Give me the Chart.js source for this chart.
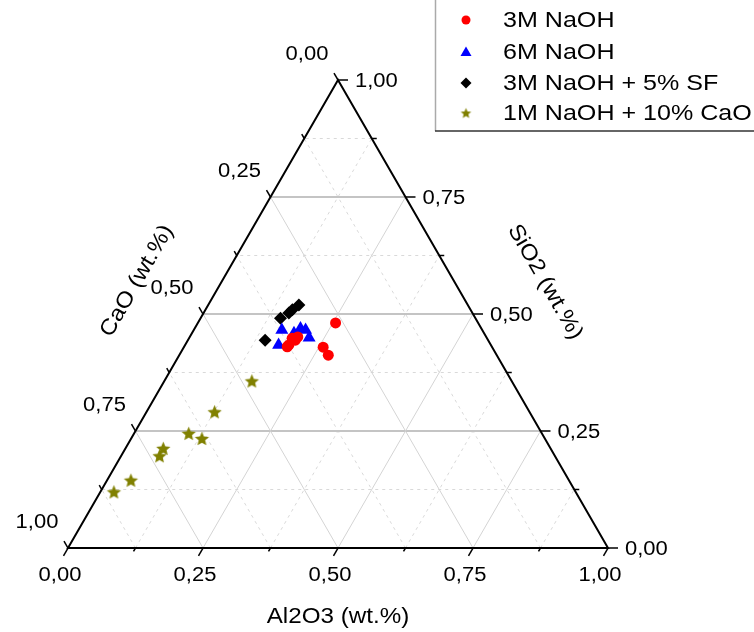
<!DOCTYPE html>
<html>
<head>
<meta charset="utf-8">
<script src="https://cdn.jsdelivr.net/npm/chart.js@4.4.1/dist/chart.umd.min.js"></script>
<style>
  html, body { margin: 0; padding: 0; background: #ffffff; }
  #c { display: block; }
</style>
</head>
<body>
<canvas id="c" width="754" height="632"></canvas>
<script>
// ---- Data (weight fractions: CaO, Al2O3, SiO2) ----
const seriesNames = ['3M NaOH', '6M NaOH', '3M NaOH + 5% SF', '1M NaOH + 10% CaO'];

const s1CaO  = [0.264, 0.361, 0.357, 0.374, 0.379, 0.313, 0.312, 0.349];
const s1Al2O3 = [0.255, 0.191, 0.199, 0.192, 0.191, 0.258, 0.276, 0.200];
const s1SiO2 = [0.481, 0.448, 0.444, 0.434, 0.430, 0.429, 0.412, 0.451];

const s2CaO  = [0.371, 0.335, 0.327, 0.329, 0.393, 0.352];
const s2Al2O3 = [0.163, 0.196, 0.207, 0.222, 0.173, 0.189];
const s2SiO2 = [0.466, 0.469, 0.466, 0.449, 0.434, 0.459];

const s3CaO  = [0.313, 0.330, 0.340, 0.361, 0.413];
const s3Al2O3 = [0.168, 0.161, 0.158, 0.148, 0.143];
const s3SiO2 = [0.519, 0.509, 0.502, 0.491, 0.444];

const s4CaO  = [0.481, 0.583, 0.654, 0.635, 0.717, 0.732, 0.811, 0.855];
const s4Al2O3 = [0.162, 0.126, 0.101, 0.131, 0.070, 0.071, 0.044, 0.025];
const s4SiO2 = [0.357, 0.291, 0.245, 0.234, 0.213, 0.197, 0.145, 0.120];

const majorTicks = [0, 0.25, 0.5, 0.75, 1];
const tickLabels = ['0,00', '0,25', '0,50', '0,75', '1,00'];
const minorTicks = [0.125, 0.375, 0.625, 0.875];
const axisTitles = ['Al2O3 (wt.%)', 'CaO (wt.%)', 'SiO2 (wt.%)'];

// ---- ternary -> cartesian (unit equilateral triangle) ----
const H3 = Math.sqrt(3) / 2;
function tern(ca, al, si) { return { x: al + si / 2, y: si * H3 }; }
function build(ca, al, si) { return ca.map((c, i) => tern(c, al[i], si[i])); }

// filled star marker
function makeStar(rOuter, color) {
  const size = Math.ceil(rOuter * 2 + 2);
  const cv = document.createElement('canvas');
  cv.width = size; cv.height = size;
  const g = cv.getContext('2d');
  const cx = size / 2, cy = size / 2 + rOuter * 0.1;
  const rInner = rOuter * 0.46;
  g.beginPath();
  for (let i = 0; i < 10; i++) {
    const r = i % 2 === 0 ? rOuter : rInner;
    const a = -Math.PI / 2 + i * Math.PI / 5;
    const px = cx + r * Math.cos(a), py = cy + r * Math.sin(a);
    if (i === 0) g.moveTo(px, py); else g.lineTo(px, py);
  }
  g.closePath();
  g.fillStyle = color;
  g.fill();
  return cv;
}
const OLIVE = '#808000';
const starPlot = makeStar(7.5, OLIVE);
const starLegend = makeStar(5.5, OLIVE);

const FONT = '"Liberation Sans", Arial, Helvetica, sans-serif';
function drawText(ctx, str, x, y, size, align, rot, sx) {
  ctx.save();
  ctx.translate(x, y);
  if (rot) ctx.rotate(rot);
  ctx.scale(sx || 1.1, 1);
  ctx.font = size + 'px ' + FONT;
  ctx.fillStyle = '#000';
  ctx.textAlign = align;
  ctx.textBaseline = 'middle';
  ctx.fillText(str, 0, 0);
  ctx.restore();
}

const ternaryPlugin = {
  id: 'ternary',
  beforeDatasetsDraw(chart) {
    const ctx = chart.ctx;
    const xs = chart.scales.x, ys = chart.scales.y;
    const P = (ca, al, si) => { const t = tern(ca, al, si); return [xs.getPixelForValue(t.x), ys.getPixelForValue(t.y)]; };
    const line = (a, b) => { ctx.beginPath(); ctx.moveTo(a[0], a[1]); ctx.lineTo(b[0], b[1]); ctx.stroke(); };
    ctx.save();
    // minor grid (dashed)
    ctx.setLineDash([3, 4]);
    ctx.strokeStyle = '#d9d9d9';
    ctx.lineWidth = 1;
    minorTicks.forEach(v => {
      line(P(0, 1 - v, v), P(1 - v, 0, v));      // SiO2 = v
      line(P(v, 1 - v, 0), P(v, 0, 1 - v));      // CaO = v
      line(P(1 - v, v, 0), P(0, v, 1 - v));      // Al2O3 = v
    });
    ctx.setLineDash([]);
    // major grid
    [0.25, 0.5, 0.75].forEach(v => {
      ctx.strokeStyle = '#d4d4d4';
      ctx.lineWidth = 1;
      line(P(v, 1 - v, 0), P(v, 0, 1 - v));
      line(P(1 - v, v, 0), P(0, v, 1 - v));
      ctx.strokeStyle = '#c4c4c4';
      ctx.lineWidth = 2;
      line(P(0, 1 - v, v), P(1 - v, 0, v));
    });
    // triangle axes
    ctx.strokeStyle = '#000';
    ctx.lineWidth = 2;
    const A = P(1, 0, 0), B = P(0, 1, 0), C = P(0, 0, 1);
    ctx.beginPath();
    ctx.moveTo(A[0], A[1]); ctx.lineTo(B[0], B[1]); ctx.lineTo(C[0], C[1]); ctx.closePath();
    ctx.stroke();
    // ticks
    ctx.lineWidth = 1.5;
    const dBottom = [-0.5, 0.866], dRight = [1, 0], dLeft = [-0.5, -0.866];
    const tick = (p, d, len) => line(p, [p[0] + d[0] * len, p[1] + d[1] * len]);
    majorTicks.forEach(v => {
      tick(P(1 - v, v, 0), dBottom, 9);
      tick(P(0, 1 - v, v), dRight, 10);
      tick(P(v, 0, 1 - v), dLeft, 8);
    });
    minorTicks.forEach(v => {
      tick(P(1 - v, v, 0), dBottom, 4);
      tick(P(0, 1 - v, v), dRight, 5);
      tick(P(v, 0, 1 - v), dLeft, 5);
    });
    ctx.restore();
  },
  afterDraw(chart) {
    const ctx = chart.ctx;
    const xs = chart.scales.x, ys = chart.scales.y;
    const P = (ca, al, si) => { const t = tern(ca, al, si); return [xs.getPixelForValue(t.x), ys.getPixelForValue(t.y)]; };
    // tick labels
    majorTicks.forEach((v, i) => {
      const b = P(1 - v, v, 0);
      drawText(ctx, tickLabels[i], b[0] - 8, b[1] + 27, 20, 'center');
      const r = P(0, 1 - v, v);
      drawText(ctx, tickLabels[i], r[0] + 17, r[1] + 1, 20, 'left');
      const l = P(v, 0, 1 - v);
      drawText(ctx, tickLabels[i], l[0] - 31, l[1] - 26, 20, 'center');
    });
    // axis titles
    const mb = P(0.5, 0.5, 0);
    drawText(ctx, axisTitles[0], mb[0], mb[1] + 69, 22, 'center');
    drawText(ctx, axisTitles[1], 137, 281, 22, 'center', -Math.PI / 3);
    drawText(ctx, axisTitles[2], 545, 282, 22, 'center', Math.PI / 3);

    // legend
    ctx.save();
    ctx.fillStyle = '#fff';
    ctx.fillRect(435, 0, 319, 131);
    ctx.strokeStyle = '#aaaaaa';
    ctx.lineWidth = 1.5;
    ctx.beginPath(); ctx.moveTo(435.5, 0); ctx.lineTo(435.5, 131); ctx.stroke();
    ctx.strokeStyle = '#333';
    ctx.lineWidth = 1.5;
    ctx.beginPath(); ctx.moveTo(435, 131); ctx.lineTo(754, 131); ctx.stroke();
    const rows = [20, 52, 83, 113];
    const mx = 466;
    ctx.fillStyle = '#ff0000';
    ctx.beginPath(); ctx.arc(mx, rows[0], 4.5, 0, Math.PI * 2); ctx.fill();
    ctx.fillStyle = '#0000ff';
    ctx.beginPath(); ctx.moveTo(mx, rows[1] - 5.5); ctx.lineTo(mx + 5.5, rows[1] + 4); ctx.lineTo(mx - 5.5, rows[1] + 4); ctx.closePath(); ctx.fill();
    ctx.fillStyle = '#000';
    ctx.beginPath(); ctx.moveTo(mx, rows[2] - 5.5); ctx.lineTo(mx + 5.5, rows[2]); ctx.lineTo(mx, rows[2] + 5.5); ctx.lineTo(mx - 5.5, rows[2]); ctx.closePath(); ctx.fill();
    ctx.drawImage(starLegend, mx - starLegend.width / 2, rows[3] - starLegend.height / 2);
    ctx.restore();
    seriesNames.forEach((n, i) => drawText(ctx, n, 503, rows[i] + 1, 22, 'left', 0, 1.14));
  }
};

const chart = new Chart(document.getElementById('c'), {
  type: 'scatter',
  data: {
    datasets: [
      { label: seriesNames[0], data: build(s1CaO, s1Al2O3, s1SiO2), pointStyle: 'circle', pointRadius: 5.5, backgroundColor: '#ff0000', borderColor: '#ff0000', borderWidth: 0 },
      { label: seriesNames[1], data: build(s2CaO, s2Al2O3, s2SiO2), pointStyle: 'triangle', pointRadius: 7.5, backgroundColor: '#0000ff', borderColor: '#0000ff', borderWidth: 0 },
      { label: seriesNames[2], data: build(s3CaO, s3Al2O3, s3SiO2), pointStyle: 'rectRot', pointRadius: 6.5, backgroundColor: '#000000', borderColor: '#000000', borderWidth: 0 },
      { label: seriesNames[3], data: build(s4CaO, s4Al2O3, s4SiO2), pointStyle: starPlot, pointRadius: 7.5, backgroundColor: OLIVE, borderColor: OLIVE, borderWidth: 0 }
    ]
  },
  options: {
    responsive: false,
    animation: false,
    devicePixelRatio: 1,
    clip: false,
    layout: { padding: { left: 68, right: 146, top: 80, bottom: 84 } },
    scales: {
      x: { type: 'linear', min: 0, max: 1, display: false },
      y: { type: 'linear', min: 0, max: H3, display: false }
    },
    plugins: {
      legend: { display: false },
      tooltip: { enabled: false }
    },
    events: []
  },
  plugins: [ternaryPlugin]
});
</script>
</body>
</html>
